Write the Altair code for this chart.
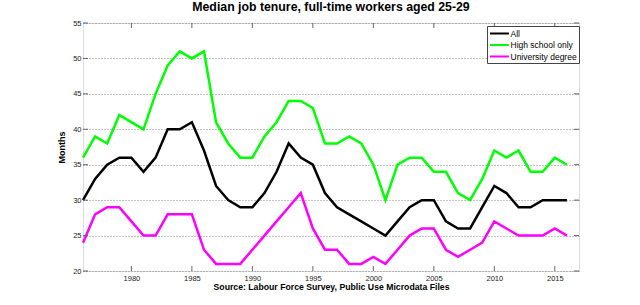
import altair as alt
import pandas as pd

years = list(range(1976, 2017))
all_workers = [30, 33, 35, 36, 36, 34, 36, 40, 40, 41, 37, 32, 30, 29, 29, 31, 34, 38, 36, 35,
               31, 29, 28, 27, 26, 25, 27, 29, 30, 30, 27, 26, 26, 29, 32, 31, 29, 29, 30, 30, 30]
high_school = [36, 39, 38, 42, 41, 40, 45, 49, 51, 50, 51, 41, 38, 36, 36, 39, 41, 44, 44, 43,
               38, 38, 39, 38, 35, 30, 35, 36, 36, 34, 34, 31, 30, 33, 37, 36, 37, 34, 34, 36, 35]
university = [24, 28, 29, 29, 27, 25, 25, 28, 28, 28, 23, 21, 21, 21, 23, 25, 27, 29, 31, 26,
              23, 23, 21, 21, 22, 21, 23, 25, 26, 26, 23, 22, 23, 24, 27, 26, 25, 25, 25, 26, 25]
series_names = ["All", "High school only", "University degree"]
series_colors = ["#000000", "#00ff00", "#ff00ff"]
x_ticks = [1980, 1985, 1990, 1995, 2000, 2005, 2010, 2015]
y_ticks = [20, 25, 30, 35, 40, 45, 50, 55]

rows = []
for name, vals in zip(series_names, [all_workers, high_school, university]):
    for yr, v in zip(years, vals):
        rows.append({"year": yr, "months": v, "series": name})
df = pd.DataFrame(rows)

W, H = 496, 248
FONT = "Liberation Sans"

xscale = alt.Scale(domain=[1976, 2017], nice=False, zero=False)
yscale = alt.Scale(domain=[20, 55], nice=False, zero=False)

x_axis = alt.Axis(values=x_ticks, format="d", ticks=False, domain=False, grid=False,
                  labelFontSize=7.5, labelColor="#222", labelPadding=3, labelFont=FONT,
                  labelOverlap=False,
                  title="Source: Labour Force Survey, Public Use Microdata Files",
                  titleFontSize=8.7, titleFont=FONT, titleFontWeight="bold",
                  titleColor="#000", titlePadding=1)
y_axis = alt.Axis(values=y_ticks, ticks=False, domain=False, grid=True,
                  gridDash=[1, 2], gridColor="#888", gridWidth=1,
                  labelFontSize=7.5, labelColor="#222", labelPadding=2, labelFont=FONT,
                  labelOverlap=False,
                  title="Months", titleFontSize=9, titleFont=FONT,
                  titleFontWeight="bold", titleColor="#000", titlePadding=6)

lines = alt.Chart(df).mark_line(strokeWidth=2.5).encode(
    x=alt.X("year:Q", scale=xscale, axis=x_axis),
    y=alt.Y("months:Q", scale=yscale, axis=y_axis),
    color=alt.Color("series:N",
                    scale=alt.Scale(domain=series_names, range=series_colors),
                    legend=alt.Legend(title=None, orient="none", legendX=404, legendY=3,
                                      symbolType="M-1,0H3.2", symbolSize=81,
                                      symbolStrokeWidth=2,
                                      labelFontSize=8.5, labelFont=FONT, labelColor="#000",
                                      rowPadding=1.5, padding=2, labelOffset=10.5,
                                      fillColor="white", strokeColor="#444")),
)

xt = pd.DataFrame({"year": x_ticks})
yt = pd.DataFrame({"months": y_ticks})
tick_x_top = alt.Chart(xt).mark_rule(color="#666").encode(
    x=alt.X("year:Q", scale=xscale, axis=x_axis), y=alt.value(0), y2=alt.value(5))
tick_x_bot = alt.Chart(xt).mark_rule(color="#666").encode(
    x=alt.X("year:Q", scale=xscale, axis=x_axis), y=alt.value(H - 5), y2=alt.value(H))
tick_y_left = alt.Chart(yt).mark_rule(color="#666").encode(
    y=alt.Y("months:Q", scale=yscale, axis=y_axis), x=alt.value(0), x2=alt.value(5))
tick_y_right = alt.Chart(yt).mark_rule(color="#666").encode(
    y=alt.Y("months:Q", scale=yscale, axis=y_axis), x=alt.value(W - 5), x2=alt.value(W))

chart = alt.layer(lines, tick_x_top, tick_x_bot, tick_y_left, tick_y_right).properties(
    width=W, height=H,
    title=alt.Title("Median job tenure, full-time workers aged 25-29", fontSize=12.3,
                    font=FONT, fontWeight="bold", color="#000", anchor="middle", offset=6),
    autosize=alt.AutoSizeParams(type="none"),
    padding={"left": 83, "top": 23, "right": 61, "bottom": 34},
).configure_view(stroke="#777", strokeWidth=1).configure(background="white")

chart.save("out.html", embed_options={"renderer": "svg", "actions": False})
